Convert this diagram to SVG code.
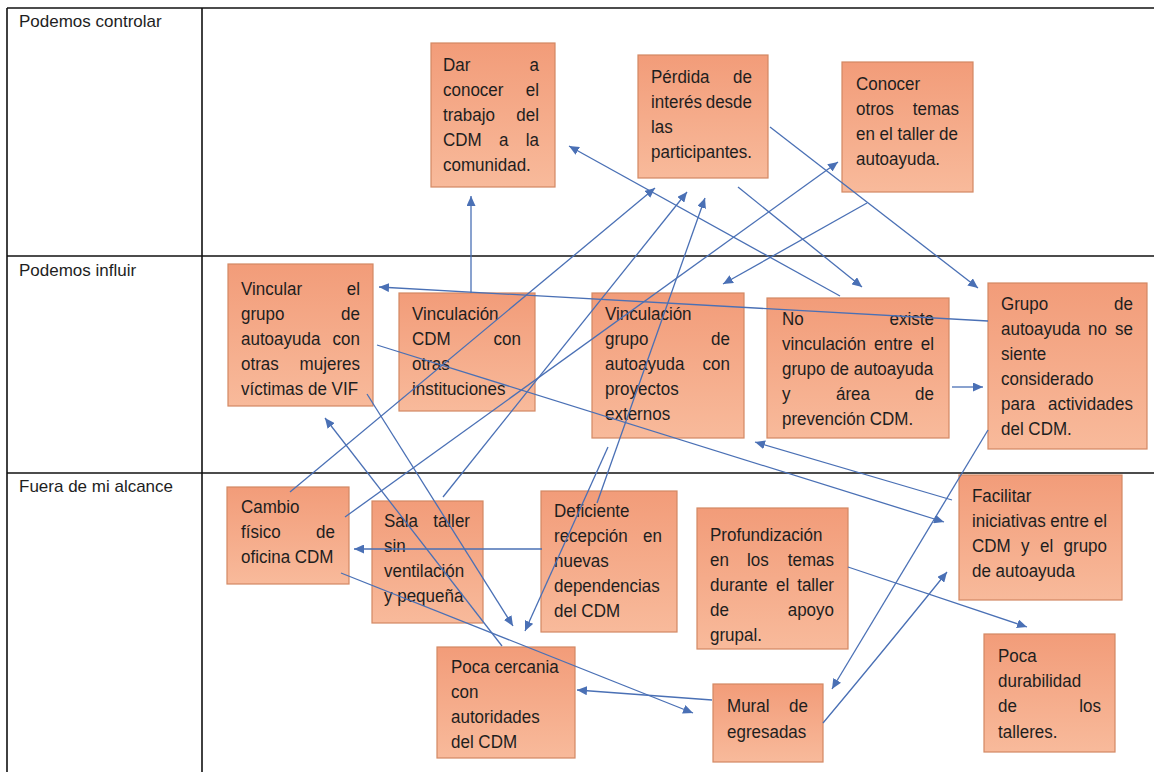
<svg xmlns="http://www.w3.org/2000/svg" width="1154" height="772" viewBox="0 0 1154 772">
<defs>
<linearGradient id="g" x1="0" y1="0" x2="0" y2="1">
<stop offset="0" stop-color="#F29C79"/>
<stop offset="1" stop-color="#F8BA9B"/>
</linearGradient>
<marker id="ah" markerUnits="userSpaceOnUse" markerWidth="11" markerHeight="9" refX="10" refY="4.5" orient="auto">
<path d="M0,0 L10,4.5 L0,9 z" fill="#4A70B5"/>
</marker>
<style>
.box{fill:url(#g);stroke:#D38863;stroke-width:1.2}
.t{font-family:"Liberation Sans",Arial,sans-serif;font-size:17px;fill:#1e1e1e}
.n .t{transform-box:fill-box;transform-origin:0 80%;transform:scaleY(1.09)}
.e{text-anchor:end}
.grid{stroke:#111;stroke-width:1.6;fill:none}
.c{stroke:#4A70B5;stroke-width:1.3;fill:none;marker-end:url(#ah)}
</style>
</defs>
<rect width="1154" height="772" fill="#fff"/>
<g id="table">
<line class="grid" x1="7" y1="8" x2="1154" y2="8"/>
<line class="grid" x1="7" y1="256" x2="1154" y2="256"/>
<line class="grid" x1="7" y1="473" x2="1154" y2="473"/>
<line class="grid" x1="7" y1="8" x2="7" y2="772"/>
<line class="grid" x1="202" y1="8" x2="202" y2="772"/>
<text class="t" x="19" y="27">Podemos controlar</text>
<text class="t" x="19" y="276">Podemos influir</text>
<text class="t" x="19" y="492">Fuera de mi alcance</text>
</g>
<g id="n1" class="n">
<rect class="box" x="431" y="43" width="124" height="144"/>
<text class="t" x="443" y="71">Dar</text><text class="t e" x="539" y="71">a</text>
<text class="t" x="443" y="96">conocer</text><text class="t e" x="539" y="96">el</text>
<text class="t" x="443" y="121">trabajo</text><text class="t e" x="539" y="121">del</text>
<text class="t" x="443" y="146">CDM</text><text class="t" x="499" y="146">a</text><text class="t e" x="539" y="146">la</text>
<text class="t" x="443" y="171">comunidad.</text>
</g>
<g id="n2" class="n">
<rect class="box" x="638" y="55" width="130" height="123"/>
<text class="t" x="651" y="83">Pérdida</text><text class="t e" x="752" y="83">de</text>
<text class="t" x="651" y="108">interés</text><text class="t e" x="752" y="108">desde</text>
<text class="t" x="651" y="133">las</text>
<text class="t" x="651" y="158">participantes.</text>
</g>
<g id="n3" class="n">
<rect class="box" x="842" y="62" width="131" height="130"/>
<text class="t" x="856" y="90">Conocer</text>
<text class="t" x="856" y="115">otros</text><text class="t e" x="959" y="115">temas</text>
<text class="t" x="856" y="140">en el taller de</text>
<text class="t" x="856" y="165">autoayuda.</text>
</g>
<g id="n4" class="n">
<rect class="box" x="228" y="264" width="145" height="142"/>
<text class="t" x="241" y="295">Vincular</text><text class="t e" x="360" y="295">el</text>
<text class="t" x="241" y="320">grupo</text><text class="t e" x="360" y="320">de</text>
<text class="t" x="241" y="345">autoayuda</text><text class="t e" x="360" y="345">con</text>
<text class="t" x="241" y="370">otras</text><text class="t e" x="360" y="370">mujeres</text>
<text class="t" x="241" y="395">víctimas de VIF</text>
</g>
<g id="n5" class="n">
<rect class="box" x="399" y="293" width="136" height="118"/>
<text class="t" x="412" y="320">Vinculación</text>
<text class="t" x="412" y="345">CDM</text><text class="t e" x="521" y="345">con</text>
<text class="t" x="412" y="370">otras</text>
<text class="t" x="412" y="395">instituciones</text>
</g>
<g id="n6" class="n">
<rect class="box" x="592" y="293" width="152" height="145"/>
<text class="t" x="605" y="320">Vinculación</text>
<text class="t" x="605" y="345">grupo</text><text class="t e" x="730" y="345">de</text>
<text class="t" x="605" y="370">autoayuda</text><text class="t e" x="730" y="370">con</text>
<text class="t" x="605" y="395">proyectos</text>
<text class="t" x="605" y="420">externos</text>
</g>
<g id="n7" class="n">
<rect class="box" x="767" y="298" width="182" height="140"/>
<text class="t" x="782" y="325">No</text><text class="t e" x="934" y="325">existe</text>
<text class="t" x="782" y="350">vinculación</text><text class="t" x="874" y="350">entre</text><text class="t e" x="934" y="350">el</text>
<text class="t" x="782" y="375">grupo de autoayuda</text>
<text class="t" x="782" y="400">y</text><text class="t" x="836" y="400">área</text><text class="t e" x="934" y="400">de</text>
<text class="t" x="782" y="425">prevención CDM.</text>
</g>
<g id="n8" class="n">
<rect class="box" x="988" y="283" width="159" height="166"/>
<text class="t" x="1001" y="310">Grupo</text><text class="t e" x="1133" y="310">de</text>
<text class="t" x="1001" y="335">autoayuda</text><text class="t" x="1088" y="335">no</text><text class="t e" x="1133" y="335">se</text>
<text class="t" x="1001" y="360">siente</text>
<text class="t" x="1001" y="385">considerado</text>
<text class="t" x="1001" y="410">para</text><text class="t e" x="1133" y="410">actividades</text>
<text class="t" x="1001" y="435">del CDM.</text>
</g>
<g id="n9" class="n">
<rect class="box" x="227" y="487" width="122" height="97"/>
<text class="t" x="241" y="513">Cambio</text>
<text class="t" x="241" y="538">físico</text><text class="t e" x="335" y="538">de</text>
<text class="t" x="241" y="563">oficina CDM</text>
</g>
<g id="n10" class="n">
<rect class="box" x="372" y="501" width="111" height="122"/>
<text class="t" x="384" y="527">Sala</text><text class="t e" x="470" y="527">taller</text>
<text class="t" x="384" y="552">sin</text>
<text class="t" x="384" y="577">ventilación</text>
<text class="t" x="384" y="602">y pequeña</text>
</g>
<g id="n11" class="n">
<rect class="box" x="541" y="491" width="136" height="141"/>
<text class="t" x="554" y="517">Deficiente</text>
<text class="t" x="554" y="542">recepción</text><text class="t e" x="662" y="542">en</text>
<text class="t" x="554" y="567">nuevas</text>
<text class="t" x="554" y="592">dependencias</text>
<text class="t" x="554" y="617">del CDM</text>
</g>
<g id="n12" class="n">
<rect class="box" x="697" y="508" width="151" height="141"/>
<text class="t" x="710" y="541">Profundización</text>
<text class="t" x="710" y="566">en</text><text class="t" x="747" y="566">los</text><text class="t e" x="834" y="566">temas</text>
<text class="t" x="710" y="591">durante</text><text class="t" x="776" y="591">el</text><text class="t e" x="834" y="591">taller</text>
<text class="t" x="710" y="616">de</text><text class="t e" x="834" y="616">apoyo</text>
<text class="t" x="710" y="641">grupal.</text>
</g>
<g id="n13" class="n">
<rect class="box" x="437" y="647" width="138" height="111"/>
<text class="t" x="451" y="673">Poca cercania</text>
<text class="t" x="451" y="698">con</text>
<text class="t" x="451" y="723">autoridades</text>
<text class="t" x="451" y="748">del CDM</text>
</g>
<g id="n14" class="n">
<rect class="box" x="713" y="684" width="110" height="78"/>
<text class="t" x="727" y="712">Mural</text><text class="t e" x="808" y="712">de</text>
<text class="t" x="727" y="738">egresadas</text>
</g>
<g id="n15" class="n">
<rect class="box" x="959" y="475" width="163" height="125"/>
<text class="t" x="972" y="502">Facilitar</text>
<text class="t" x="972" y="527">iniciativas entre el</text>
<text class="t" x="972" y="552">CDM</text><text class="t" x="1021" y="552">y</text><text class="t" x="1040" y="552">el</text><text class="t e" x="1107" y="552">grupo</text>
<text class="t" x="972" y="577">de autoayuda</text>
</g>
<g id="n16" class="n">
<rect class="box" x="984" y="634" width="131" height="118"/>
<text class="t" x="998" y="662">Poca</text>
<text class="t" x="998" y="687">durabilidad</text>
<text class="t" x="998" y="712">de</text><text class="t e" x="1101" y="712">los</text>
<text class="t" x="998" y="738">talleres.</text>
</g>
<g id="connectors">
<line class="c" x1="471" y1="293" x2="471" y2="196"/>
<line class="c" x1="840" y1="296" x2="569" y2="146"/>
<line class="c" x1="738" y1="187" x2="862" y2="287"/>
<line class="c" x1="770" y1="127" x2="978" y2="288"/>
<line class="c" x1="867" y1="203" x2="723" y2="284"/>
<line class="c" x1="345" y1="517" x2="838" y2="162"/>
<line class="c" x1="290" y1="492" x2="655" y2="188"/>
<line class="c" x1="443" y1="497" x2="687" y2="192"/>
<line class="c" x1="597" y1="503" x2="705" y2="198"/>
<line class="c" x1="988" y1="321" x2="379" y2="287"/>
<line class="c" x1="377" y1="345" x2="944" y2="522"/>
<line class="c" x1="367" y1="394" x2="513" y2="626"/>
<line class="c" x1="608" y1="447" x2="525" y2="631"/>
<line class="c" x1="502" y1="646" x2="325" y2="418"/>
<line class="c" x1="542" y1="549" x2="354" y2="549"/>
<line class="c" x1="341" y1="573" x2="693" y2="713"/>
<line class="c" x1="712" y1="700" x2="577" y2="690"/>
<line class="c" x1="952" y1="387" x2="983" y2="387"/>
<line class="c" x1="988" y1="430" x2="832" y2="689"/>
<line class="c" x1="952" y1="500" x2="755" y2="442"/>
<path class="c" d="M823,723 Q880,655 947,572"/>
<line class="c" x1="848" y1="567" x2="1027" y2="627"/>
</g>
</svg>
